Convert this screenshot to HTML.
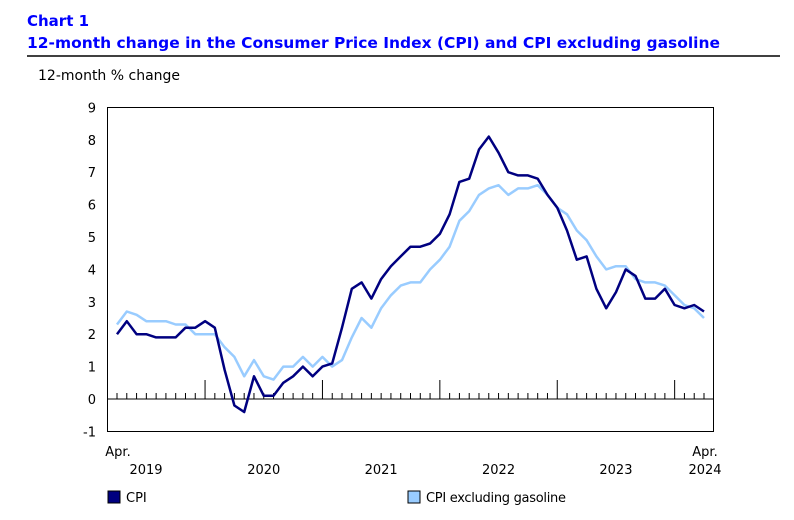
<!DOCTYPE html>
<html><head><meta charset="utf-8"><style>
body{margin:0;background:#fff;width:794px;height:516px;overflow:hidden;font-family:"DejaVu Sans",Verdana,sans-serif}
</style></head><body>
<svg width="794" height="516" xmlns="http://www.w3.org/2000/svg" font-family="DejaVu Sans, Verdana, sans-serif" id="chart">
<text x="27" y="26" font-size="15" font-weight="bold" fill="#0000ff">Chart 1</text>
<text x="27" y="48" font-size="15" font-weight="bold" fill="#0000ff" textLength="693" lengthAdjust="spacingAndGlyphs">12-month change in the Consumer Price Index (CPI) and CPI excluding gasoline</text>
<line x1="27" y1="56" x2="780" y2="56" stroke="#000" stroke-width="1.5"/>
<text x="38" y="80" font-size="14" fill="#000">12-month % change</text>
<rect x="107.5" y="107.5" width="606" height="324" fill="none" stroke="#000"/>
<g id="yaxis"></g>
<g id="xaxis"></g>
<g id="series"></g>
<rect x="108" y="491" width="12" height="12" fill="#000080" stroke="#000"/>
<text x="126" y="502" font-size="13">CPI</text>
<rect x="408" y="491" width="12" height="12" fill="#99ccff" stroke="#000"/>
<text x="426" y="502" font-size="13" textLength="140">CPI excluding gasoline</text>
</svg>
<script>
const yTicks=[-1,0,1,2,3,4,5,6,7,8,9];
const yearLabels=["2019","2020","2021","2022","2023","2024"];
const cpi=[2.0,2.4,2.0,2.0,1.9,1.9,1.9,2.2,2.2,
2.4,2.2,0.9,-0.2,-0.4,0.7,0.1,0.1,0.5,0.7,1.0,0.7,
1.0,1.1,2.2,3.4,3.6,3.1,3.7,4.1,4.4,4.7,4.7,4.8,
5.1,5.7,6.7,6.8,7.7,8.1,7.6,7.0,6.9,6.9,6.8,6.3,
5.9,5.2,4.3,4.4,3.4,2.8,3.3,4.0,3.8,3.1,3.1,3.4,
2.9,2.8,2.9,2.7];
const cpiExGas=[2.3,2.7,2.6,2.4,2.4,2.4,2.3,2.3,2.0,
2.0,2.0,1.6,1.3,0.7,1.2,0.7,0.6,1.0,1.0,1.3,1.0,
1.3,1.0,1.2,1.9,2.5,2.2,2.8,3.2,3.5,3.6,3.6,4.0,
4.3,4.7,5.5,5.8,6.3,6.5,6.6,6.3,6.5,6.5,6.6,6.3,
5.9,5.7,5.2,4.9,4.4,4.0,4.1,4.1,3.7,3.6,3.6,3.5,
3.2,2.9,2.8,2.5];
const NS="http://www.w3.org/2000/svg";
const X=i=>117+i*(587/60);
const Y=v=>399-v*32.4;
function mk(t,a,p){const e=document.createElementNS(NS,t);for(const k in a)e.setAttribute(k,a[k]);p.appendChild(e);return e;}
const ya=document.getElementById('yaxis'),xa=document.getElementById('xaxis'),sg=document.getElementById('series');
yTicks.forEach(v=>{const t=mk('text',{x:96,y:Y(v)+5,'font-size':13,'text-anchor':'end'},ya);t.textContent=v;

});
const zl=mk('line',{x1:107.5,x2:713.5,y1:Y(0),y2:Y(0),stroke:'#000'},xa);


for(let i=0;i<cpi.length;i++){const major=(i+3)%12===0;const l=mk('line',{x1:X(i),x2:X(i),y1:Y(0),y2:Y(0)-(major?19:6),stroke:'#000'},xa);

}
yearLabels.forEach((y,k)=>{let cx;if(k===0)cx=X(0)+29;else if(k===5)cx=X(60)+1;else cx=X(9+12*(k-1)+6);
const t=mk('text',{x:cx,y:474,'font-size':13,'text-anchor':'middle'},xa);t.textContent=y;

});
[[X(0)+1,'Apr.'],[X(60)+1,'Apr.']].forEach(([x,s])=>{const t=mk('text',{x:x,y:456,'font-size':13,'text-anchor':'middle'},xa);t.textContent=s;

});
function line(d,c,n){const p=mk('polyline',{points:d.map((v,i)=>X(i).toFixed(1)+','+Y(v).toFixed(1)).join(' '),fill:'none',stroke:c,'stroke-width':2.5,'stroke-linejoin':'round'},sg);

}
line(cpiExGas,'#99ccff','cpi-ex-gasoline-line');
line(cpi,'#000080','cpi-line');
</script>
</body></html>
